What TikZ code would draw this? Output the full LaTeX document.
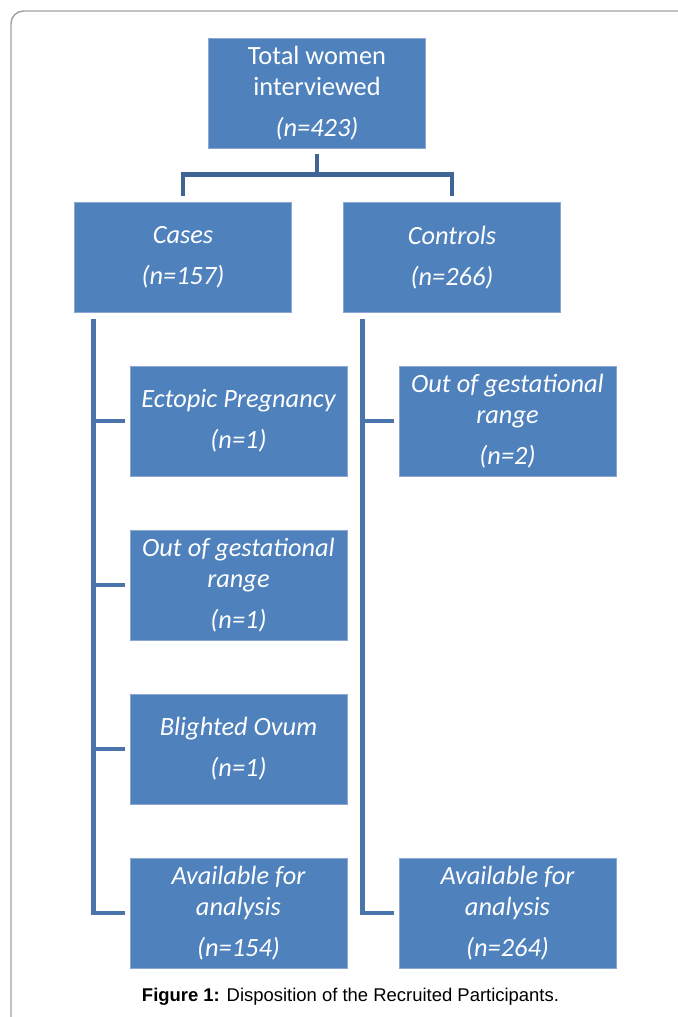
\documentclass[tikz,border=0pt]{standalone}
\usepackage{fontspec}
\setmainfont{Carlito}
\newfontfamily\capfont{Liberation Sans}
\usetikzlibrary{positioning}
\definecolor{boxblue}{HTML}{4F81BD}
\definecolor{boxline}{HTML}{8AA8D2}
\definecolor{linkblue}{HTML}{4A74AC}
\definecolor{topblue}{HTML}{3F6596}
\definecolor{framegray}{HTML}{A0A0A0}
\tikzset{
  box/.style={draw=boxline, fill=boxblue, line width=0.5pt, minimum width=4.34cm, minimum height=2.2cm, align=center, text=white, font=\fontsize{15}{17.6}\selectfont\itshape},
  link/.style={draw=linkblue, line width=2.8pt}
}

\begin{document}
\begin{tikzpicture}[node distance=3.28cm]
      \clip (0,0) rectangle (13.56,-20.34);
      \useasboundingbox (0,0) rectangle (13.56,-20.34);
      \draw[framegray, line width=0.8pt, rounded corners=0.25cm] (14,-0.22) -- (0.22,-0.22) -- (0.22,-21);
      \node[box, font=\fontsize{15}{17.6}\selectfont] (n0) at (6.34,-1.86) {Total women\\interviewed\\[5.6pt]\textit{(n=423)}};
      \node[box] (n1) at (3.66,-5.15) {Cases\\[5.6pt](n=157)};
      \node[box, right of=n1, node distance=5.38cm] (n2) {Controls\\[5.6pt](n=266)};
      \node[box] (n3) at (4.77,-8.42) {Ectopic Pregnancy\\[5.6pt](n=1)};
      \node[box, below of=n3] (n4) {Out of gestational\\range\\[5.6pt](n=1)};
      \node[box, below of=n4] (n5) {Blighted Ovum\\[5.6pt](n=1)};
      \node[box, below of=n5] (n6) {Available for\\analysis\\[5.6pt](n=154)};
      \node[box, right of=n3, node distance=5.38cm] (n7) {Out of gestational\\range\\[5.6pt](n=2)};
      \node[box, right of=n6, node distance=5.38cm] (n8) {Available for\\analysis\\[5.6pt](n=264)};
      \coordinate (aux1) at ([xshift=0.38cm, yshift=-0.12cm]n1.south west);
      \coordinate (aux2) at ([xshift=0.38cm, yshift=-0.12cm]n2.south west);
      \draw[link, draw=topblue] ([yshift=-0.12cm]n0.south) -- ++(0,-0.45);
      \draw[link, draw=topblue] ([yshift=0.12cm]n1.north) -- ++(0,0.44) -| ([yshift=0.12cm]n2.north);
      \draw[link] (aux1) |- ([xshift=-0.1cm]n6.west);
      \draw[link] (aux1 |- n3.west) -- ([xshift=-0.1cm]n3.west);
      \draw[link] (aux1 |- n4.west) -- ([xshift=-0.1cm]n4.west);
      \draw[link] (aux1 |- n5.west) -- ([xshift=-0.1cm]n5.west);
      \draw[link] (aux2) |- ([xshift=-0.1cm]n8.west);
      \draw[link] (aux2 |- n7.west) -- ([xshift=-0.1cm]n7.west);
      \node[font=\capfont\fontsize{10.5}{12}\selectfont] (cap) at (7.01,-19.94) {\textbf{Figure 1:} Disposition of the Recruited Participants.};
\end{tikzpicture}
\end{document}
